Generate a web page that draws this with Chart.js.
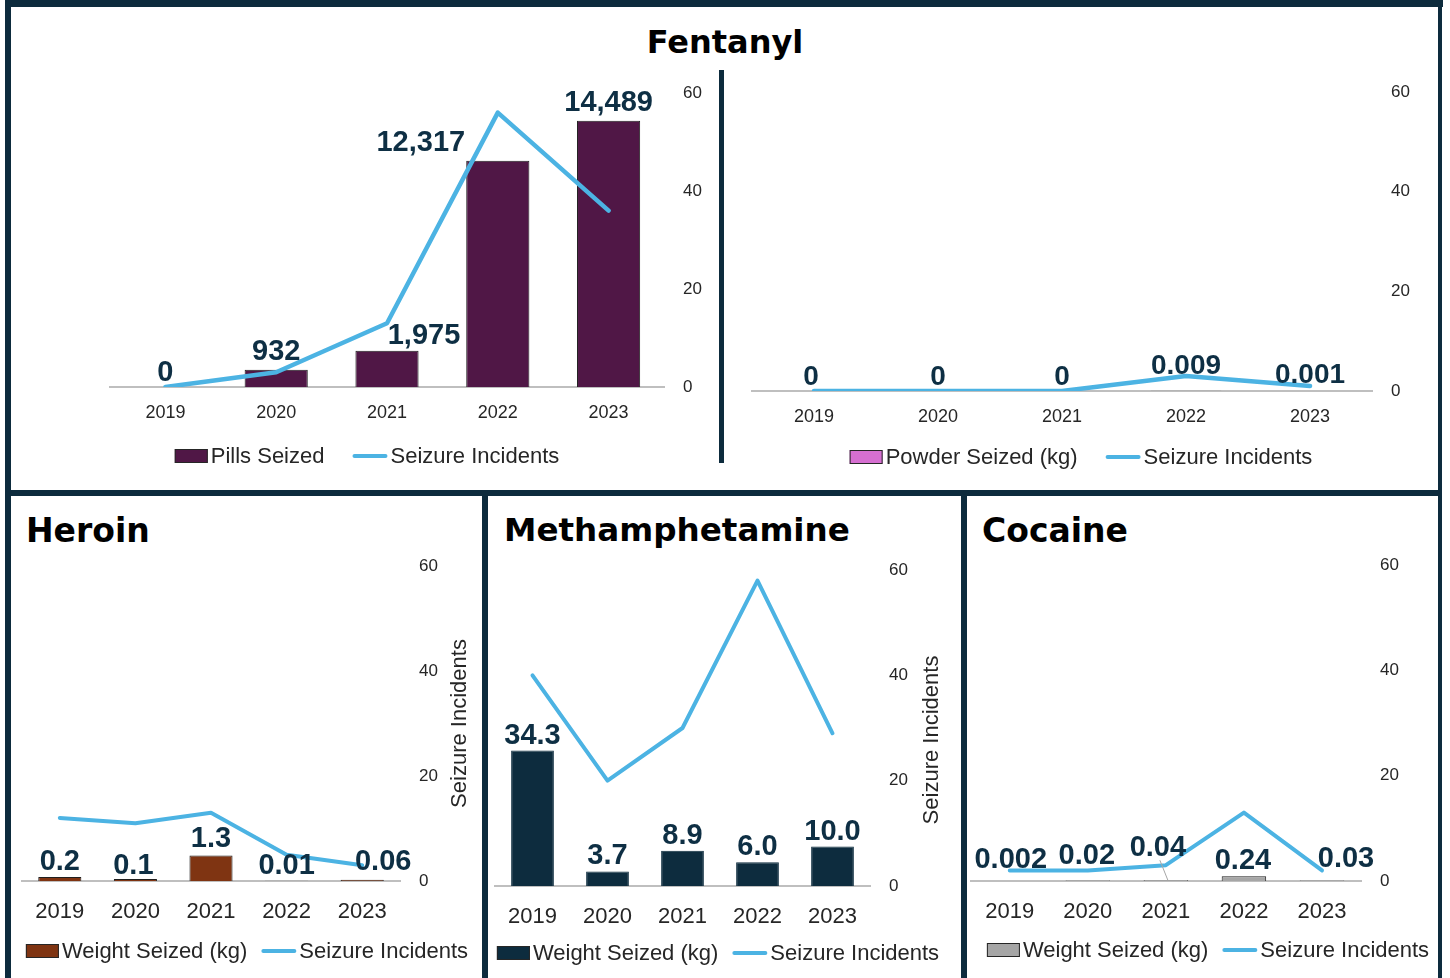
<!DOCTYPE html>
<html>
<head>
<meta charset="utf-8">
<title>Drug seizures 2019-2023</title>
<script src="https://cdn.jsdelivr.net/npm/chart.js@4.4.1/dist/chart.umd.min.js"></script>
<style>
  html, body { margin: 0; padding: 0; background: #fff; }
  body { width: 1450px; height: 978px; position: relative; overflow: hidden; }
  .rule { position: absolute; background: #0d2b3d; }
  .title { position: absolute; font: bold 33px "DejaVu Sans", sans-serif; line-height: 33px; color: #000; white-space: nowrap; }
  canvas { position: absolute; }
</style>
</head>
<body>
<!-- frame -->
<div class="rule" style="left:5px;top:0;width:1438px;height:7px"></div>
<div class="rule" style="left:5px;top:0;width:6px;height:978px"></div>
<div class="rule" style="left:1438px;top:0;width:4px;height:978px"></div>
<div class="rule" style="left:5px;top:490px;width:1437px;height:6px"></div>
<div class="rule" style="left:482px;top:490px;width:6px;height:488px"></div>
<div class="rule" style="left:961px;top:490px;width:6px;height:488px"></div>
<div class="rule" style="left:719px;top:70px;width:5px;height:393px"></div>

<div class="title" style="left:0;top:26px;width:1450px;text-align:center;font-size:32px;line-height:32px">Fentanyl</div>
<div class="title" style="left:26px;top:514px">Heroin</div>
<div class="title" style="left:504px;top:514px;font-size:32.6px">Methamphetamine</div>
<div class="title" style="left:982px;top:514px">Cocaine</div>

<canvas id="pillsChart" width="708" height="420" style="left:11px;top:60px"></canvas>
<canvas id="powderChart" width="715" height="420" style="left:724px;top:60px"></canvas>
<canvas id="heroinChart" width="471" height="482" style="left:11px;top:496px"></canvas>
<canvas id="methChart" width="473" height="482" style="left:488px;top:496px"></canvas>
<canvas id="cocaineChart" width="472" height="482" style="left:967px;top:496px"></canvas>

<script>
// data
const years = ["2019", "2020", "2021", "2022", "2023"];
const incidentTicks = [0, 20, 40, 60];

const fentanylPills = [0, 932, 1975, 12317, 14489];
const fentanylPillIncidents = [0, 3, 13, 56, 36];

const fentanylPowderKg = [0, 0, 0, 0.009, 0.001];
const fentanylPowderIncidents = [0, 0, 0, 3, 1];

const heroinKg = [0.2, 0.1, 1.3, 0.01, 0.06];
const heroinIncidents = [12, 11, 13, 5, 3];

const methKg = [34.3, 3.7, 8.9, 6.0, 10.0];
const methIncidents = [40, 20, 30, 58, 29];

const cocaineKg = [0.002, 0.02, 0.04, 0.24, 0.03];
const cocaineIncidents = [2, 2, 3, 13, 2];

const LINE_BLUE = "#4cb3e3";
const LABEL_NAVY = "#0e2f44";
const TEXT_DARK = "#262626";
const SANS = '"Liberation Sans", Arial, sans-serif';

function formatAmount(v, style) {
  if (style === "comma") return v.toLocaleString("en-US");
  if (style === "fixed1") return v.toFixed(1);
  return String(v);
}

// data labels, legend and the rotated axis title
function decorPlugin(spec) {
  return {
    id: "decor",
    afterDatasetsDraw(chart) {
      const ctx = chart.ctx;
      const bars = chart.getDatasetMeta(0).data;
      const values = chart.data.datasets[0].data;
      ctx.save();
      ctx.font = spec.labelFont;
      ctx.fillStyle = LABEL_NAVY;
      ctx.textAlign = "center";
      ctx.textBaseline = "middle";
      bars.forEach((bar, i) => {
        const n = spec.nudges[i] || [0, 0];
        const x = bar.x + n[0];
        const y = bar.y - spec.labelGap + n[1];
        if (spec.leader === i) {
          ctx.strokeStyle = "#a6a6a6";
          ctx.lineWidth = 1;
          ctx.beginPath();
          ctx.moveTo(x + 2, y + 12);
          ctx.lineTo(bar.x + 2, bar.y);
          ctx.stroke();
        }
        ctx.fillText(formatAmount(values[i], spec.format), x, y);
      });
      ctx.restore();
    },
    afterDraw(chart) {
      const ctx = chart.ctx;
      const barSet = chart.data.datasets[0];
      const lineSet = chart.data.datasets[1];
      ctx.save();
      ctx.font = spec.legendFont;
      const w1 = ctx.measureText(barSet.label).width;
      const w2 = ctx.measureText(lineSet.label).width;
      const total = 36 + w1 + spec.legendGap + 38 + w2;
      let x = spec.legendX - total / 2;
      const y = spec.legendY;
      ctx.fillStyle = barSet.backgroundColor;
      ctx.fillRect(x, y - 7, 33, 14);
      ctx.strokeStyle = TEXT_DARK;
      ctx.lineWidth = 1;
      ctx.strokeRect(x + 0.5, y - 6.5, 32, 13);
      ctx.fillStyle = TEXT_DARK;
      ctx.textAlign = "left";
      ctx.textBaseline = "middle";
      ctx.fillText(barSet.label, x + 36, y + 1);
      x += 36 + w1 + spec.legendGap;
      ctx.strokeStyle = LINE_BLUE;
      ctx.lineWidth = 4;
      ctx.lineCap = "round";
      ctx.beginPath();
      ctx.moveTo(x + 2, y);
      ctx.lineTo(x + 33, y);
      ctx.stroke();
      ctx.fillText(lineSet.label, x + 38, y + 1);

      if (spec.axisTitleX) {
        const area = chart.chartArea;
        ctx.translate(spec.axisTitleX, (area.top + area.bottom) / 2 + (spec.axisTitleDy || 0));
        ctx.rotate(-Math.PI / 2);
        ctx.textAlign = "center";
        ctx.fillText(lineSet.label, 0, 0);
      }
      ctx.restore();
    }
  };
}

function buildChart(id, spec) {
  return new Chart(document.getElementById(id), {
    type: "bar",
    data: {
      labels: years,
      datasets: [
        {
          label: spec.barLabel,
          data: spec.amounts,
          backgroundColor: spec.barColor,
          borderColor: spec.barEdge,
          borderWidth: 1,
          barPercentage: 0.57,
          categoryPercentage: 1,
          yAxisID: "y",
          order: 1
        },
        {
          type: "line",
          label: "Seizure Incidents",
          data: spec.incidents,
          borderColor: LINE_BLUE,
          borderWidth: spec.lineWidth,
          borderCapStyle: "round",
          borderJoinStyle: "round",
          pointRadius: 0,
          tension: 0,
          fill: false,
          yAxisID: "y1",
          order: 0
        }
      ]
    },
    options: {
      responsive: false,
      animation: false,
      events: [],
      layout: { padding: spec.padding },
      plugins: { legend: { display: false }, tooltip: { enabled: false } },
      scales: {
        x: {
          grid: { display: false, drawTicks: false },
          border: { display: true, color: "#bfbfbf", width: 2 },
          ticks: { color: TEXT_DARK, font: { family: SANS, size: spec.tickSize }, padding: spec.tickPad },
          afterFit: s => { s.height = spec.xAxisH; }
        },
        y: { display: false, min: 0, max: spec.amountMax },
        y1: {
          position: "right",
          min: 0,
          max: Math.max(...incidentTicks),
          grid: { display: false, drawTicks: false },
          border: { display: false },
          ticks: { stepSize: incidentTicks[1] - incidentTicks[0], color: TEXT_DARK, font: { family: SANS, size: 17 }, padding: 19 },
          afterFit: s => { s.width = spec.y1W; }
        }
      }
    },
    plugins: [decorPlugin(spec)]
  });
}

buildChart("pillsChart", {
  barLabel: "Pills Seized", amounts: fentanylPills, incidents: fentanylPillIncidents,
  barColor: "#501746", barEdge: "#1f1f1f", amountMax: 16000, lineWidth: 4.5,
  padding: { left: 99, top: 33, right: 5, bottom: 53 }, y1W: 50, xAxisH: 40,
  tickSize: 18, tickPad: 15, format: "comma",
  labelFont: "bold 29px " + SANS, labelGap: 18,
  nudges: [[0, 4], [0, 0], [37, 3], [-77, 0], [0, 0]],
  legendFont: "22px " + SANS, legendX: 356, legendY: 396, legendGap: 28
});

buildChart("powderChart", {
  barLabel: "Powder Seized (kg)", amounts: fentanylPowderKg, incidents: fentanylPowderIncidents,
  barColor: "#d66fd1", barEdge: "#1f1f1f", amountMax: 16, lineWidth: 4.5,
  padding: { left: 28, top: 32, right: 17, bottom: 49 }, y1W: 50, xAxisH: 40,
  tickSize: 18, tickPad: 15, format: "raw",
  labelFont: "bold 28px " + SANS, labelGap: 19,
  nudges: [[-3, 5], [0, 5], [0, 5], [0, -6], [0, 3]],
  legendFont: "22px " + SANS, legendX: 357, legendY: 397, legendGap: 28
});

buildChart("heroinChart", {
  barLabel: "Weight Seized (kg)", amounts: heroinKg, incidents: heroinIncidents,
  barColor: "#7f3412", barEdge: "#1f1f1f", amountMax: 16, lineWidth: 4,
  padding: { left: 11, top: 70, right: 7, bottom: 52 }, y1W: 75, xAxisH: 45,
  tickSize: 22, tickPad: 18, format: "raw",
  labelFont: "bold 29px " + SANS, labelGap: 15,
  nudges: [[0, 0], [-2, 2], [0, -1], [0, 0], [21, -3]],
  legendFont: "22px " + SANS, legendX: 236, legendY: 455, legendGap: 14,
  axisTitleX: 449
});

buildChart("methChart", {
  barLabel: "Weight Seized (kg)", amounts: methKg, incidents: methIncidents,
  barColor: "#0d2c3e", barEdge: "#0d2c3e", amountMax: 80, lineWidth: 4,
  padding: { left: 7, top: 74, right: 16, bottom: 47 }, y1W: 75, xAxisH: 45,
  tickSize: 22, tickPad: 18, format: "fixed1",
  labelFont: "bold 29px " + SANS, labelGap: 15,
  nudges: [],
  legendFont: "22px " + SANS, legendX: 230, legendY: 457, legendGap: 14,
  axisTitleX: 444, axisTitleDy: 12
});

buildChart("cocaineChart", {
  barLabel: "Weight Seized (kg)", amounts: cocaineKg, incidents: cocaineIncidents,
  barColor: "#a6a6a6", barEdge: "#1f1f1f", amountMax: 16, lineWidth: 4,
  padding: { left: 3, top: 69, right: 18, bottom: 52 }, y1W: 60, xAxisH: 45,
  tickSize: 22, tickPad: 18, format: "raw",
  labelFont: "bold 29px " + SANS, labelGap: 15,
  nudges: [[1, -6], [-1, -10], [-8, -17], [-1, 0], [24, -6]], leader: 2,
  legendFont: "22px " + SANS, legendX: 241, legendY: 454, legendGap: 14
});
</script>
</body>
</html>
